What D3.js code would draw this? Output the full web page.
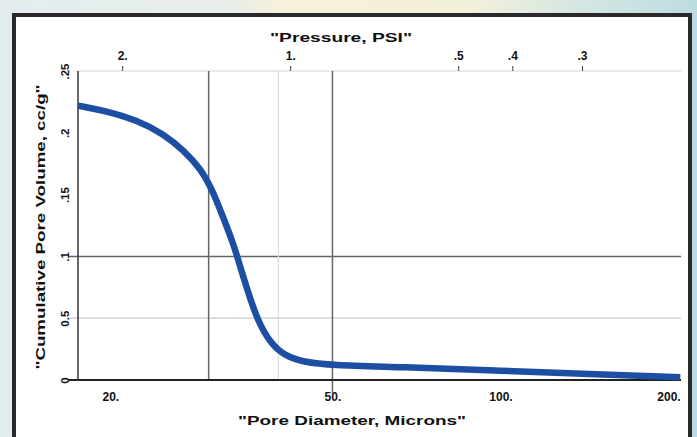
<!DOCTYPE html>
<html>
<head>
<meta charset="utf-8">
<script src="https://cdn.jsdelivr.net/npm/d3@7"></script>
<style>
  body { margin: 0; }
  svg { display: block; }
  text { font-family: "Liberation Sans", Arial, sans-serif; font-weight: bold; fill: #111; }
</style>
</head>
<body>
<div id="chart"></div>
<script>
// pore diameter (microns) vs cumulative pore volume (cc/g)
const diameters = [17.5, 19.5, 22.4, 24.9, 27.1, 29.0, 30.3, 31.9, 33.3, 34.2, 35.2, 36.7, 38.7, 40.9, 44.4, 49.6, 66.2, 100, 150, 210];
const volumes   = [0.222, 0.218, 0.210, 0.199, 0.1855, 0.171, 0.156, 0.131, 0.109, 0.091, 0.073, 0.048, 0.030, 0.020, 0.0145, 0.012, 0.0105, 0.0075, 0.0045, 0.0022];

const xTicks = [20, 50, 100, 200];
const xTickLabels = ['20.', '50.', '100.', '200.'];
const pressureTicks = [2, 1, 0.5, 0.4, 0.3];
const pressureLabels = ['2.', '1.', '.5', '.4', '.3'];
const yTicks = [0, 0.05, 0.1, 0.15, 0.2, 0.25];
const yTickLabels = ['0', '0.5', '.1', '.15', '.2', '.25'];
const darkXGrid = [30, 50];
const lightXGrid = [40];
const PRESSURE_K = 42; // pressure * diameter

const W = 697, H = 437;
const margin = {top: 71, right: 16, bottom: 57, left: 78};
const width = W - margin.left - margin.right;
const height = H - margin.top - margin.bottom;

const svg = d3.select('#chart').append('svg')
  .attr('width', W)
  .attr('height', H);

// background
const defs = svg.append('defs');
const grad = defs.append('linearGradient').attr('id', 'bg').attr('x1', 0).attr('x2', 1).attr('y1', 0).attr('y2', 0);
grad.append('stop').attr('offset', '0%').attr('stop-color', '#e3edf0');
grad.append('stop').attr('offset', '33%').attr('stop-color', '#e8eeea');
grad.append('stop').attr('offset', '40%').attr('stop-color', '#f7f0db');
grad.append('stop').attr('offset', '68%').attr('stop-color', '#f3f0dc');
grad.append('stop').attr('offset', '82%').attr('stop-color', '#d6e7e2');
grad.append('stop').attr('offset', '100%').attr('stop-color', '#bcdce2');
svg.append('rect').attr('width', W).attr('height', H).attr('fill', 'url(#bg)');

svg.append('rect')
  .attr('x', 14).attr('y', 15)
  .attr('width', 676).attr('height', 440)
  .attr('fill', '#fff')
  .attr('stroke', '#2a2a2a')
  .attr('stroke-width', 4);

const g = svg.append('g').attr('transform', `translate(${margin.left},${margin.top})`);

const x = d3.scaleLog().domain([17.5, 210.6]).range([0, width]);
const y = d3.scaleLinear().domain([0, 0.25]).range([height, 0]);

// horizontal grid
g.append('line').attr('x1', -10).attr('x2', width)
  .attr('y1', y(0.05)).attr('y2', y(0.05))
  .attr('stroke', '#c8c8c8').attr('stroke-width', 1.2);
g.append('line').attr('x1', -10).attr('x2', width)
  .attr('y1', y(0.1)).attr('y2', y(0.1))
  .attr('stroke', '#666').attr('stroke-width', 1.5);
g.append('line').attr('x1', 0).attr('x2', width)
  .attr('y1', 0).attr('y2', 0)
  .attr('stroke', '#d4d4d4').attr('stroke-width', 1.2);

// vertical grid
g.selectAll('.vlight').data(lightXGrid).join('line')
  .attr('x1', d => x(d)).attr('x2', d => x(d))
  .attr('y1', 0).attr('y2', height)
  .attr('stroke', '#dcdcdc').attr('stroke-width', 1.2);
g.selectAll('.vdark').data(darkXGrid).join('line')
  .attr('x1', d => x(d)).attr('x2', d => x(d))
  .attr('y1', 0).attr('y2', d => d === 50 ? height + 13 : height)
  .attr('stroke', '#666').attr('stroke-width', 1.5);

// axes lines
g.append('line').attr('x1', 0).attr('x2', 0).attr('y1', 0).attr('y2', height)
  .attr('stroke', '#333').attr('stroke-width', 1.5);
g.append('line').attr('x1', -10).attr('x2', width).attr('y1', height).attr('y2', height)
  .attr('stroke', '#222').attr('stroke-width', 2);

// bottom axis labels
const xAxis = d3.axisBottom(x).tickValues(xTicks).tickSize(0)
  .tickFormat((d, i) => xTickLabels[i]);
const gx = g.append('g').attr('transform', `translate(0,${height})`).call(xAxis);
gx.select('.domain').remove();
gx.selectAll('text').attr('dy', '1.5em').style('font-size', '12px');

// top axis (pressure)
const p = d3.scaleLog()
  .domain([PRESSURE_K / 17.5, PRESSURE_K / 210.6])
  .range([0, width]);
const pAxis = d3.axisTop(p).tickValues(pressureTicks).tickSize(5).tickPadding(6)
  .tickFormat((d, i) => pressureLabels[i]);
const gp = g.append('g').call(pAxis);
gp.select('.domain').remove();
gp.selectAll('line').attr('stroke', '#444');
gp.selectAll('text').style('font-size', '12px');

// left axis labels, rotated
const yAxis = d3.axisLeft(y).tickValues(yTicks).tickSize(0)
  .tickFormat((d, i) => yTickLabels[i]);
const gy = g.append('g').call(yAxis);
gy.select('.domain').remove();
gy.selectAll('text')
  .attr('transform', 'rotate(-90)')
  .attr('x', 0).attr('y', -9)
  .attr('dy', 0)
  .style('text-anchor', 'middle')
  .style('font-size', '11.5px');

// titles, stretched like the original
svg.append('text')
  .attr('x', 341).attr('y', 42)
  .attr('text-anchor', 'middle')
  .attr('textLength', 142).attr('lengthAdjust', 'spacingAndGlyphs')
  .style('font-size', '13px')
  .text('"Pressure, PSI"');
svg.append('text')
  .attr('x', 352).attr('y', 425)
  .attr('text-anchor', 'middle')
  .attr('textLength', 228).attr('lengthAdjust', 'spacingAndGlyphs')
  .style('font-size', '13px')
  .text('"Pore Diameter, Microns"');
svg.append('text')
  .attr('transform', 'translate(45,227) rotate(-90)')
  .attr('text-anchor', 'middle')
  .attr('textLength', 285).attr('lengthAdjust', 'spacingAndGlyphs')
  .style('font-size', '13px')
  .text('"Cumulative Pore Volume, cc/g"');

// curve
const data = diameters.map((d, i) => [d, volumes[i]]);
const line = d3.line()
  .x(d => x(d[0]))
  .y(d => y(d[1]))
  .curve(d3.curveBasis);
g.append('path')
  .datum(data)
  .attr('fill', 'none')
  .attr('stroke', '#1c4fa3')
  .attr('stroke-width', 6.5)
  .attr('stroke-linecap', 'butt')
  .attr('d', line);
</script>
</body>
</html>
